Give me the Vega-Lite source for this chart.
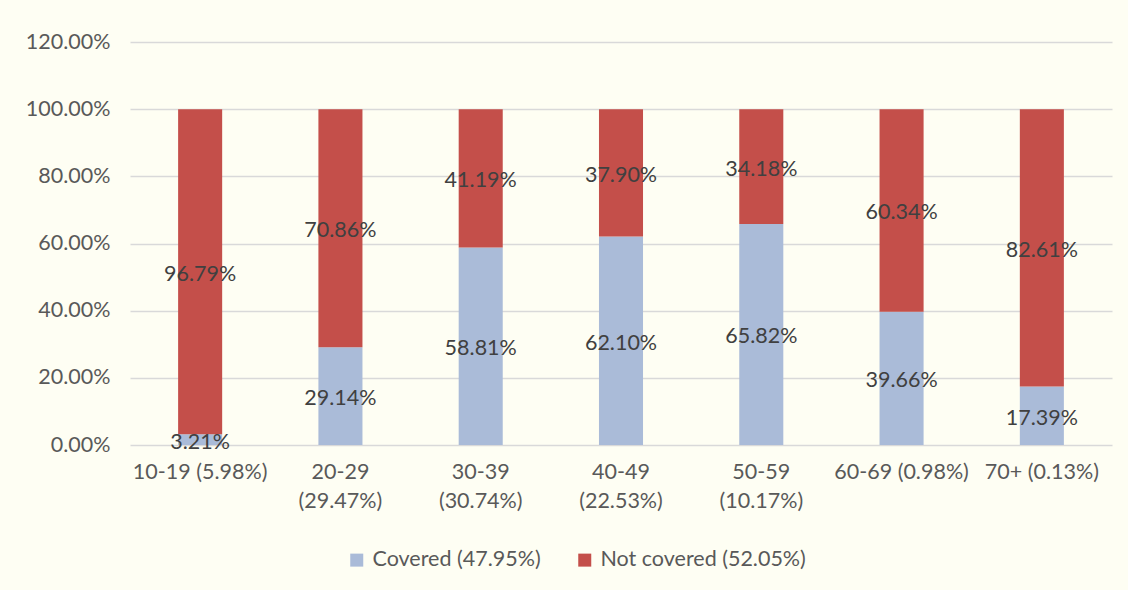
{
  "$schema": "https://vega.github.io/schema/vega-lite/v6.json",
  "width": 982,
  "height": 403,
  "autosize": {"type": "none"},
  "padding": {"left": 130, "top": 42, "right": 16, "bottom": 145},
  "background": "#FEFEF3",
  "config": {
    "view": {"stroke": null},
    "font": "Lato",
    "axis": {"labelFont": "Lato", "labelColor": "#595959", "labelFontSize": 21.5},
    "legend": {"labelFont": "Lato", "labelColor": "#595959", "labelFontSize": 21.5}
  },
  "data": {
    "values": [
      {"age": "10-19 (5.98%)", "status": "Covered (47.95%)", "ord": 1, "v": 0.0321},
      {"age": "10-19 (5.98%)", "status": "Not covered (52.05%)", "ord": 2, "v": 0.9679},
      {"age": "20-29 (29.47%)", "status": "Covered (47.95%)", "ord": 1, "v": 0.2914},
      {"age": "20-29 (29.47%)", "status": "Not covered (52.05%)", "ord": 2, "v": 0.7086},
      {"age": "30-39 (30.74%)", "status": "Covered (47.95%)", "ord": 1, "v": 0.5881},
      {"age": "30-39 (30.74%)", "status": "Not covered (52.05%)", "ord": 2, "v": 0.4119},
      {"age": "40-49 (22.53%)", "status": "Covered (47.95%)", "ord": 1, "v": 0.6210},
      {"age": "40-49 (22.53%)", "status": "Not covered (52.05%)", "ord": 2, "v": 0.3790},
      {"age": "50-59 (10.17%)", "status": "Covered (47.95%)", "ord": 1, "v": 0.6582},
      {"age": "50-59 (10.17%)", "status": "Not covered (52.05%)", "ord": 2, "v": 0.3418},
      {"age": "60-69 (0.98%)", "status": "Covered (47.95%)", "ord": 1, "v": 0.3966},
      {"age": "60-69 (0.98%)", "status": "Not covered (52.05%)", "ord": 2, "v": 0.6034},
      {"age": "70+ (0.13%)", "status": "Covered (47.95%)", "ord": 1, "v": 0.1739},
      {"age": "70+ (0.13%)", "status": "Not covered (52.05%)", "ord": 2, "v": 0.8261}
    ]
  },
  "transform": [
    {"stack": "v", "groupby": ["age"], "sort": [{"field": "ord", "order": "ascending"}], "as": ["y0", "y1"]},
    {"calculate": "(datum.y0 + datum.y1) / 2", "as": "ymid"}
  ],
  "encoding": {
    "x": {
      "field": "age", "type": "nominal", "sort": null,
      "scale": {"paddingInner": 0.686, "paddingOuter": 0.343},
      "axis": {
        "title": null, "labelAngle": 0, "ticks": false, "domain": false,
        "labelPadding": 16, "labelLineHeight": 29, "labelLimit": 0,
        "labelExpr": "length(datum.label) > 13 ? split(datum.label, ' ') : datum.label"
      }
    }
  },
  "layer": [
    {
      "mark": {"type": "bar"},
      "encoding": {
        "y": {
          "field": "y0", "type": "quantitative",
          "scale": {"domain": [0, 1.2], "nice": false},
          "axis": {
            "title": null, "format": ".2%", "values": [0, 0.2, 0.4, 0.6, 0.8, 1.0, 1.2],
            "ticks": false, "domain": false, "labelPadding": 20,
            "gridColor": "#D9D9D9", "gridWidth": 1.5
          }
        },
        "y2": {"field": "y1"},
        "color": {
          "field": "status", "type": "nominal",
          "scale": {"domain": ["Covered (47.95%)", "Not covered (52.05%)"], "range": ["#AABBD8", "#C44F4A"]},
          "legend": {
            "title": null, "orient": "none", "direction": "horizontal",
            "legendX": 216, "legendY": 507, "symbolType": "square", "symbolSize": 169,
            "symbolStrokeWidth": 0, "columnPadding": 33, "labelOffset": 5, "labelLimit": 0
          }
        }
      }
    },
    {
      "mark": {"type": "text", "fontSize": 21.5, "color": "#404040", "font": "Lato", "dy": 3},
      "encoding": {
        "y": {"field": "ymid", "type": "quantitative"},
        "text": {"field": "v", "type": "quantitative", "format": ".2%"}
      }
    }
  ]
}
